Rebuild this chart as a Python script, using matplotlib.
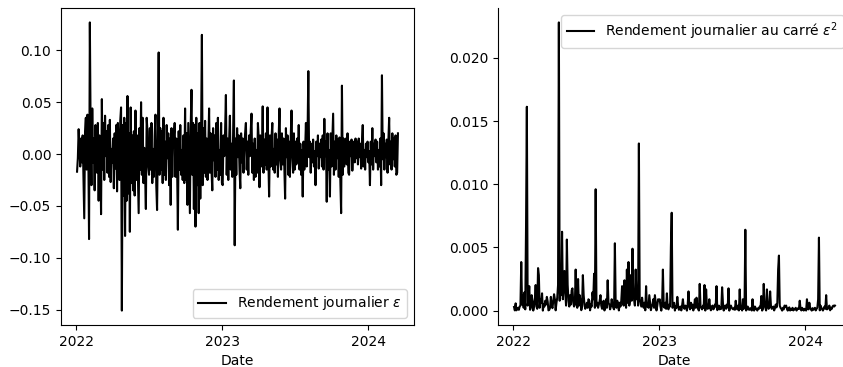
import pandas as pd
import matplotlib.pyplot as plt
import matplotlib.dates as mdates

# rendements, en millièmes, un point tous les 2 jours, un bloc par mois
r_2022 = [
    [-17, -4, 24, 5, -12, 15, -8, 18, -20, -62, 22, 35, -15, 38, 10],
    [-82, 127, 20, -30, 44, -8, 15, -35, 28, 3, -18, 30, -45, 18],
    [12, -58, 53, -15, 30, -25, 37, -2, 22, -18, 28, -22, 33, -27, 5],
    [-8, 15, -33, 20, -14, 28, -36, 30, 5, -25, 32, 45, -151, 28, -40],
    [35, -79, 30, -45, 56, -38, 20, -75, 45, -28, 18, -35, 22, -40, 42, -25],
    [18, -22, -57, 25, -15, 50, -20, 35, -28, 6, -18, -53, 35, 22, -12],
    [-20, 25, -15, 30, -28, 5, -22, 18, 38, -30, -54, 15, 98, -20, 25],
    [-15, 22, -28, 35, -20, 12, -25, 28, -4, 20, -30, 15, -49, 25, -22, 10],
    [18, 30, -22, 15, -10, -73, 22, -15, 28, -20, 4, -25, 18, -28, 44],
    [-25, 20, -49, 30, -15, -57, 25, 62, -20, 30, -53, 28, -70, 35, -30],
    [20, -57, 30, -43, 20, 115, -30, 25, -18, 32, -22, 15, -25, 5, 44],
    [-18, 20, -15, -35, 25, -6, 18, -22, 30, -15, 35, -25, 4, -20, 30, -28],
]
r_2023 = [
    [-30, 18, -2, 22, 57, -20, 15, -25, 12, 37, -15, 10, -22, 18, 71],
    [-88, 15, -20, 25, -3, 18, -15, -33, 20, -8, 15, -18, 4, 20],
    [30, -15, 12, -20, 18, -2, 22, 39, -18, 10, -25, 15, -22, 4, -18, 30],
    [15, -32, 18, -12, 3, 46, -18, 14, -10, 20, -15, 45, -3, -41, 18],
    [-12, 15, 30, -15, 5, -18, 20, -10, 14, -22, 18, 44, -6, -15, 20],
    [-10, 15, -12, -43, 25, -3, 18, -20, 12, -22, 16, 42, -2, -18, 20],
    [-15, 12, -10, 15, -8, 28, -15, 10, -20, 4, -41, 12, -15, 3, 30, -12],
    [15, 80, -3, 12, -18, 10, -8, 14, -12, 3, -30, 12, -2, 18, -14],
    [10, -3, 14, -12, 18, -15, 34, -2, 12, -46, 20, -15, 4, -41, 20],
    [-12, 15, 39, -20, 12, -15, 18, -4, 14, -22, 16, -25, -57, 66, -20, 15],
    [-12, 2, 15, -10, 20, -18, -20, 12, -2, 14, -16, 3, 12, -8, 15],
    [-4, 12, -10, 15, -3, 10, -14, 12, 28, -12, 4, -15, 10, -3, 12],
]
r_2024 = [
    [-8, 3, -30, 12, -10, 25, -15, 10, -2, 14, -8, 12, -15, 4, -12, 15],
    [-30, 76, -5, 20, -15, 10, -3, 14, -18, 12, 35, -10, 12, -15],
    [20, -5, 15, -12, 18, -20, -18, 20],
]

valeurs = [v for mois in r_2022 + r_2023 + r_2024 for v in mois]
dates = pd.date_range('2022-01-03', periods=len(valeurs), freq='2D')
eps = pd.Series(valeurs, index=dates) / 1000.0
eps2 = eps ** 2

fig = plt.figure(figsize=(8.43, 3.67), dpi=100)
ax1 = fig.add_axes([61 / 843, 42 / 367, 353 / 843, 317 / 367])
ax2 = fig.add_axes([498 / 843, 42 / 367, 353 / 843, 317 / 367])

ax1.plot(eps.index, eps.values, color='black', label=r'Rendement journalier $\varepsilon$')
ax1.legend(loc='lower right')
ax1.set_xlabel('Date')

ax2.plot(eps2.index, eps2.values, color='black', label=r'Rendement journalier au carré $\varepsilon^2$')
ax2.legend(loc='upper right')
ax2.set_xlabel('Date')
ax2.spines['top'].set_visible(False)
ax2.spines['right'].set_visible(False)

for ax in (ax1, ax2):
    ax.xaxis.set_major_locator(mdates.YearLocator())
    ax.xaxis.set_major_formatter(mdates.DateFormatter('%Y'))

fig.savefig('out.png', dpi=100)
